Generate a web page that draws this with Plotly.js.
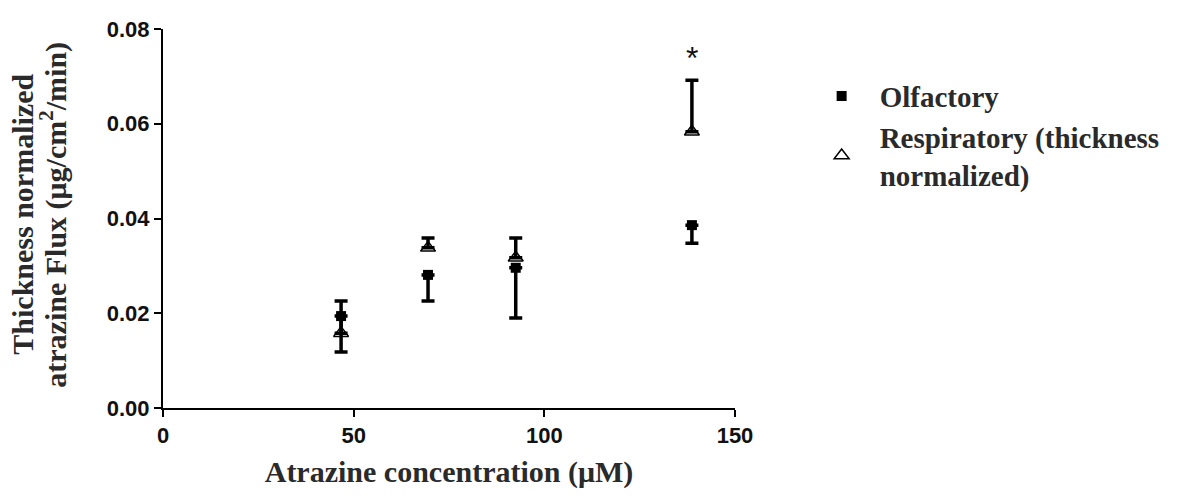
<!DOCTYPE html>
<html>
<head>
<meta charset="utf-8">
<script src="https://cdn.plot.ly/plotly-3.0.1.min.js"></script>
<style>html,body{margin:0;padding:0;background:#fff;}#chart{width:1203px;height:500px;}</style>
</head>
<body>
<div id="chart"></div>
<script>
var concentration = [46.7, 69.5, 92.5, 138.7];
var olfactoryFlux = [0.0194, 0.0281, 0.0296, 0.0386];
var olfactoryErrDown = [0.0076, 0.0055, 0.0106, 0.0038];
var respiratoryFlux = [0.0158, 0.0338, 0.0317, 0.0583];
var respiratoryErrUp = [0.0068, 0.0021, 0.0042, 0.0109];
var zeros = [0, 0, 0, 0];
var xTicks = [0, 50, 100, 150];
var yTicks = [0, 0.02, 0.04, 0.06, 0.08];
var yTitleLines = ['Thickness normalized', 'atrazine Flux (\u03bcg/cm<sup>2</sup>/min)'];

var serif = 'Liberation Serif, Times New Roman, serif';
var sans = 'Liberation Sans, Arial, sans-serif';
var titleFont = {family: serif, size: 30, color: '#2a2a2a', weight: 'bold'};

var traces = [
  {
    x: concentration, y: olfactoryFlux, type: 'scatter', mode: 'markers',
    name: 'Olfactory',
    marker: {symbol: 'square', size: 10, color: '#000'},
    error_y: {type: 'data', symmetric: false, array: zeros, arrayminus: olfactoryErrDown,
              color: '#000', thickness: 3.5, width: 6.5},
    cliponaxis: false
  },
  {
    x: concentration, y: respiratoryFlux, type: 'scatter', mode: 'markers',
    name: 'Respiratory (thickness<br>normalized)',
    marker: {symbol: 'triangle-up-open', size: 13, color: '#000', line: {width: 1.5, color: '#000'}},
    error_y: {type: 'data', symmetric: false, array: respiratoryErrUp, arrayminus: zeros,
              color: '#000', thickness: 3.5, width: 6.5},
    cliponaxis: false
  }
];

var layout = {
  width: 1203, height: 500,
  margin: {l: 163, r: 468, t: 29, b: 92},
  paper_bgcolor: '#fff', plot_bgcolor: '#fff',
  showlegend: true,
  legend: {
    x: 1.12, y: 0.89, xanchor: 'left', yanchor: 'top',
    font: {family: serif, size: 29, color: '#2a2a2a', weight: 'bold'},
    itemwidth: 66, tracegroupgap: 4, itemsizing: 'trace', bgcolor: 'rgba(0,0,0,0)'
  },
  xaxis: {
    range: [0, 150], tickvals: xTicks, ticktext: xTicks.map(String),
    showgrid: false, zeroline: false, showline: true, linecolor: '#000', linewidth: 2,
    ticks: 'outside', ticklen: 7, tickwidth: 2, tickcolor: '#000',
    tickfont: {family: sans, size: 22, color: '#111', weight: 'bold'},
    title: {text: 'Atrazine concentration (\u03bcM)', standoff: 14, font: titleFont}
  },
  yaxis: {
    range: [0, 0.08], tickvals: yTicks, ticktext: yTicks.map(function(v){return v.toFixed(2);}),
    showgrid: false, zeroline: false, showline: true, linecolor: '#000', linewidth: 2,
    ticks: 'outside', ticklen: 7, tickwidth: 2, tickcolor: '#000',
    tickfont: {family: sans, size: 22, color: '#111', weight: 'bold'}
  },
  annotations: [
    {x: concentration[3], y: 0.0738, xref: 'x', yref: 'y', text: '*', showarrow: false,
     font: {family: sans, size: 32, color: '#111'}},
    {x: 0, y: 0.51, xref: 'paper', yref: 'paper', xshift: -140, text: yTitleLines[0],
     textangle: -90, showarrow: false, xanchor: 'center', yanchor: 'middle', font: titleFont},
    {x: 0, y: 0.51, xref: 'paper', yref: 'paper', xshift: -109, text: yTitleLines[1],
     textangle: -90, showarrow: false, xanchor: 'center', yanchor: 'middle', font: titleFont}
  ]
};

Plotly.newPlot('chart', traces, layout, {displayModeBar: false, staticPlot: true});
</script>
</body>
</html>
